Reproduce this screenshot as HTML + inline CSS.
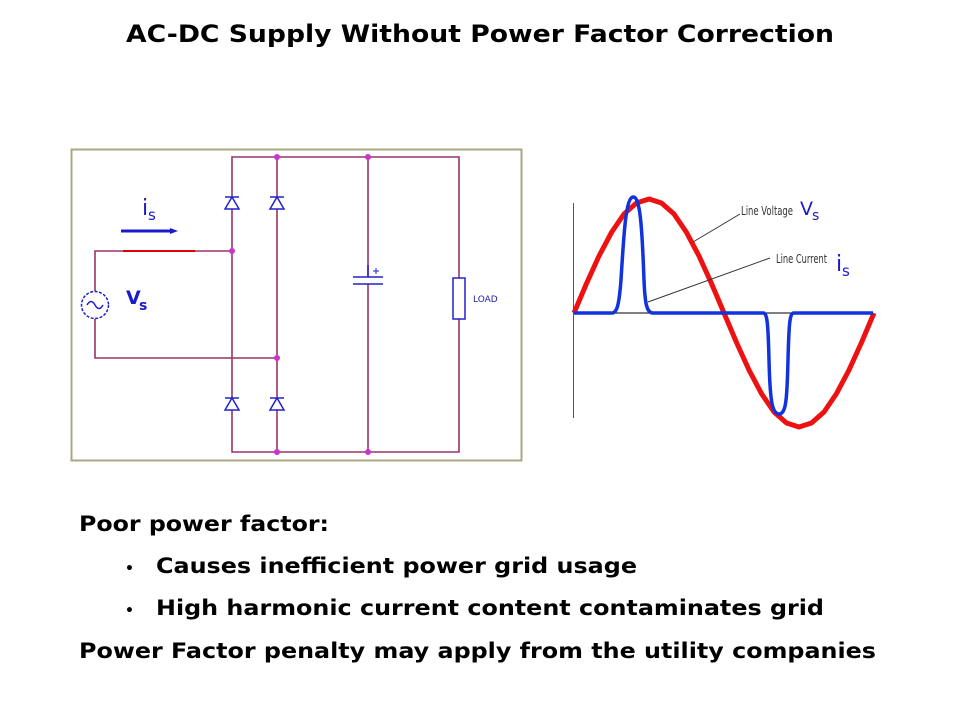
<!DOCTYPE html>
<html><head><meta charset="utf-8"><style>
html,body{margin:0;padding:0;background:#fff;}
svg{display:block;}
text{font-family:"DejaVu Sans","Liberation Sans",sans-serif;}
</style></head><body>
<svg width="960" height="720" viewBox="0 0 960 720" xmlns="http://www.w3.org/2000/svg">
<text x="126" y="42" font-size="24" font-weight="bold" textLength="708" lengthAdjust="spacingAndGlyphs">AC-DC Supply Without Power Factor Correction</text>

<!-- circuit frame -->
<rect x="71.5" y="149.5" width="450" height="311" fill="#fff" stroke="#a8a880" stroke-width="2"/>
<g stroke="#993366" stroke-width="1.6" fill="none">
  <path d="M232 157 H459 V452 H232 Z"/>
  <path d="M277 157 V452"/>
  <path d="M368 157 V277 M368 284 V452"/>
  <path d="M95 291 V251 H232"/>
  <path d="M95 319 V358 H277"/>
</g>
<line x1="123" y1="251" x2="195" y2="251" stroke="#e00000" stroke-width="2"/>
<g fill="#cc33cc">
  <circle cx="277" cy="157" r="3"/><circle cx="368" cy="157" r="3"/>
  <circle cx="277" cy="452" r="3"/><circle cx="368" cy="452" r="3"/>
  <circle cx="232" cy="251" r="3"/><circle cx="277" cy="358" r="3"/>
</g>
<!-- diodes -->
<g stroke="#2222cc" stroke-width="1.5" fill="#fff">
  <path d="M225 209 H239 L232 197 Z M225 197 H239"/>
  <path d="M270 209 H284 L277 197 Z M270 197 H284"/>
  <path d="M225 410 H239 L232 398 Z M225 398 H239"/>
  <path d="M270 410 H284 L277 398 Z M270 398 H284"/>
  <!-- cap -->
  <path d="M353 277 H383 M353 284 H383" fill="none"/>
  <path d="M368 265 V277" fill="none"/>
  <path d="M373 271 H379 M376 268 V274" fill="none" stroke-width="1"/>
  <!-- load -->
  <rect x="453" y="278" width="12" height="41"/>
  <!-- source -->
  <circle cx="95" cy="305" r="13.5" stroke-dasharray="3 1.5"/>
  <path d="M87 305 Q91 298 95 305 T103 305" fill="none"/>
</g>
<text x="473" y="302" font-size="9" fill="#2222aa">LOAD</text>
<!-- is label and arrow -->
<text x="142" y="215" font-size="22" fill="#1a1acc" font-family="Liberation Sans,sans-serif">i</text>
<text x="148" y="220" font-size="15" fill="#1a1acc" font-family="Liberation Sans,sans-serif">s</text>
<line x1="121" y1="231" x2="172" y2="231" stroke="#1a1acc" stroke-width="3"/>
<path d="M170 228 L178 231 L170 234 Z" fill="#1a1acc"/>
<text x="126" y="304" font-size="19" font-weight="bold" fill="#1a1acc" font-family="Liberation Sans,sans-serif">V</text>
<text x="139" y="310" font-size="14" font-weight="bold" fill="#1a1acc" font-family="Liberation Sans,sans-serif">s</text>

<!-- waveform -->
<line x1="573.5" y1="203" x2="573.5" y2="418" stroke="#555" stroke-width="1"/>
<line x1="574" y1="313" x2="873" y2="313" stroke="#000" stroke-width="1"/>
<polyline fill="none" stroke="#ee1111" stroke-width="5" stroke-linejoin="round" points="574,313 586.5,283.5 599,256 611.5,232.4 624,214 636.5,203 649,199 661.5,203 674,214 686.5,232.4 699,256 711.5,283.5 724,313 736.5,342.5 749,370 761.5,393.6 774,412 786.5,423 799,427 811.5,423 824,412 836.5,393.6 849,370 861.5,342.5 874,313"/>
<path d="M574 313 H612 C617 313 619 305 621 280 C624 230 626 198 633 197 C640 196 642 225 644 280 C645 305 647 313 653 313 H763 C767 313 768 320 769 360 C770 400 772 414 779 414 C786 414 787 400 788 360 C789 320 790 313 794 313 H873" fill="none" stroke="#1133dd" stroke-width="3.5" stroke-linejoin="round"/>
<line x1="693" y1="242" x2="740" y2="214" stroke="#333" stroke-width="1"/>
<line x1="648" y1="302" x2="770" y2="258" stroke="#333" stroke-width="1"/>
<text x="741" y="215" font-size="12" fill="#333" font-family="Liberation Sans,sans-serif" textLength="52" lengthAdjust="spacingAndGlyphs">Line Voltage</text>
<text x="776" y="263" font-size="12" fill="#333" font-family="Liberation Sans,sans-serif" textLength="51" lengthAdjust="spacingAndGlyphs">Line Current</text>
<text x="800" y="215" font-size="19" fill="#1a1acc" font-family="Liberation Sans,sans-serif">V</text>
<text x="812" y="220" font-size="14" fill="#1a1acc" font-family="Liberation Sans,sans-serif">s</text>
<text x="836" y="271" font-size="22" fill="#1a1acc" font-family="Liberation Sans,sans-serif">i</text>
<text x="842" y="276" font-size="15" fill="#1a1acc" font-family="Liberation Sans,sans-serif">s</text>

<!-- bullet text -->
<g font-size="21" font-weight="bold" fill="#000">
  <text x="79" y="531" textLength="250" lengthAdjust="spacingAndGlyphs">Poor power factor:</text>
  <text x="125" y="573" font-size="14">•</text>
  <text x="156" y="573" textLength="481" lengthAdjust="spacingAndGlyphs">Causes inefficient power grid usage</text>
  <text x="125" y="615" font-size="14">•</text>
  <text x="156" y="615" textLength="668" lengthAdjust="spacingAndGlyphs">High harmonic current content contaminates grid</text>
  <text x="79" y="658" textLength="797" lengthAdjust="spacingAndGlyphs">Power Factor penalty may apply from the utility companies</text>
</g>
</svg>
</body></html>
